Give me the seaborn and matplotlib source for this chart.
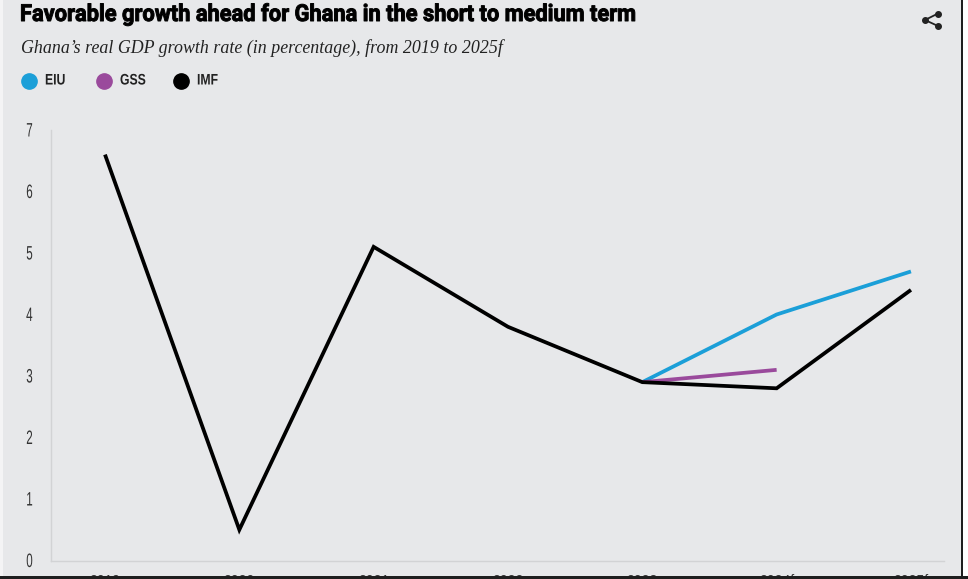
import numpy as np
import pandas as pd
import seaborn as sns
import matplotlib.pyplot as plt
import matplotlib.patheffects as pe
from matplotlib.patches import Rectangle
from matplotlib.transforms import Affine2D

# Values
years = [2019, 2020, 2021, 2022, 2023, 2024, 2025]
year_labels = ["2019", "2020", "2021", "2022", "2023", "2024f", "2025f"]
imf = [6.6, 0.5, 5.1, 3.8, 2.9, 2.8, 4.4]
eiu = [None, None, None, None, 2.9, 4.0, 4.7]
gss = [None, None, None, None, 2.9, 3.1, None]
y_ticks = [0, 1, 2, 3, 4, 5, 6, 7]

BG = "#e7e8ea"
palette = {"EIU": "#1b9fd8", "GSS": "#9a4a9c", "IMF": "#000000"}

W, H = 968, 579


class Squeeze(pe.AbstractPathEffect):
    # no condensed font is installed, so narrow the glyphs about the text origin
    def __init__(self, sx, stroke=0):
        self.sx = sx
        self.stroke = stroke

    def draw_path(self, renderer, gc, tpath, affine, rgbFace=None):
        x0 = affine.get_matrix()[0, 2]
        squeezed = affine + Affine2D().translate(-x0, 0).scale(self.sx, 1).translate(x0, 0)
        gc0 = renderer.new_gc()
        gc0.copy_properties(gc)
        if self.stroke:
            gc0.set_linewidth(self.stroke)
            gc0.set_foreground(rgbFace)
        else:
            gc0.set_linewidth(0)
        renderer.draw_path(gc0, tpath, squeezed, rgbFace)
        gc0.restore()


df = pd.DataFrame({"year": years, "EIU": eiu, "GSS": gss, "IMF": imf})
long_df = df.melt(id_vars="year", var_name="source", value_name="growth").dropna()
long_df["growth"] = long_df["growth"].astype(float)

sns.set_theme(style="white")
plt.rcParams["font.family"] = ["Liberation Sans", "DejaVu Sans"]

fig = plt.figure(figsize=(W / 100, H / 100), dpi=100, facecolor=BG)
ax = fig.add_axes([51 / W, 1 - 560.5 / H, (944 - 51) / W, (560.5 - 130) / H])
ax.set_facecolor(BG)

sns.lineplot(
    data=long_df, x="year", y="growth", hue="source", hue_order=["EIU", "GSS", "IMF"],
    palette=palette, linewidth=2.7, legend=False, errorbar=None, ax=ax,
)
for line in ax.get_lines():
    line.set_solid_joinstyle("miter")
    line.set_solid_capstyle("butt")

ax.set_xlim(2019 - 0.402, 2025 + 0.246)
ax.set_ylim(0, 7)
ax.set_xlabel("")
ax.set_ylabel("")
ax.set_xticks(years)
ax.set_xticklabels(year_labels, fontsize=10, color="#333333")
ax.set_yticks(y_ticks)
ax.set_yticklabels(y_ticks, fontsize=14, color="#333333")
for lab in ax.get_yticklabels():
    lab.set_path_effects([Squeeze(0.6)])
    lab.set_y(lab.get_position()[1])
ax.tick_params(axis="x", length=0, pad=9.6)
ax.tick_params(axis="y", length=0, pad=10)
sns.despine(ax=ax)
for side in ["left", "bottom"]:
    ax.spines[side].set_color("#d2d3d5")
    ax.spines[side].set_linewidth(1)

# heading, squeezed so it ends where the reference does
title = fig.text(20 / W, 1 - 21 / H, "Favorable growth ahead for Ghana in the short to medium term",
                 fontsize=16.8, fontweight="bold", family="Roboto", color="black", va="baseline")
fig.canvas.draw()
title_w = title.get_window_extent().width
title.set_path_effects([Squeeze(617 / title_w, stroke=0.7)])
fig.text(21 / W, 1 - 48 / H, "Ghana\u2019s real GDP growth rate (in percentage), from 2019 to 2025f",
         fontsize=12.9, style="italic", family="Liberation Serif", color="#222222", va="center")

# legend
for name, dot_x, text_x in [("EIU", 28.5, 45), ("GSS", 103.5, 120), ("IMF", 181, 197)]:
    fig.add_artist(plt.Line2D([dot_x / W], [1 - 81 / H], marker="o", markersize=11,
                              color=palette[name], linestyle="none"))
    t = fig.text(text_x / W, 1 - 80.5 / H, name, fontsize=11, fontweight="bold",
                 color="#222222", va="center")
    t.set_path_effects([Squeeze(0.8)])

# share icon
px = [(925, 20), (938, 13.5), (938, 26)]
for (x, y) in px[1:]:
    fig.add_artist(plt.Line2D([px[0][0] / W, x / W], [1 - px[0][1] / H, 1 - y / H],
                              color="#222222", linewidth=1.3))
for (x, y) in px:
    fig.add_artist(plt.Line2D([x / W], [1 - y / H], marker="o", markersize=4,
                              color="#222222", linestyle="none"))

# screenshot edges: pale strip left, dark strip at the bottom over the cut off year labels
fig.add_artist(Rectangle((0, 0), 3 / W, 1, transform=fig.transFigure,
                         facecolor="#f4f4f5", edgecolor="none", zorder=19))
fig.add_artist(Rectangle((0, 0), 1, 3.5 / H, transform=fig.transFigure,
                         facecolor="#1e1e1e", edgecolor="none", zorder=20))
fig.add_artist(Rectangle((961 / W, 0), 1.5 / W, 1, transform=fig.transFigure,
                         facecolor="#1e1e1e", edgecolor="none", zorder=20))
fig.add_artist(Rectangle((962.5 / W, 3.5 / H), 5.5 / W, 1, transform=fig.transFigure,
                         facecolor="white", edgecolor="none", zorder=20))

fig.savefig("out.png", dpi=100, facecolor=BG)
